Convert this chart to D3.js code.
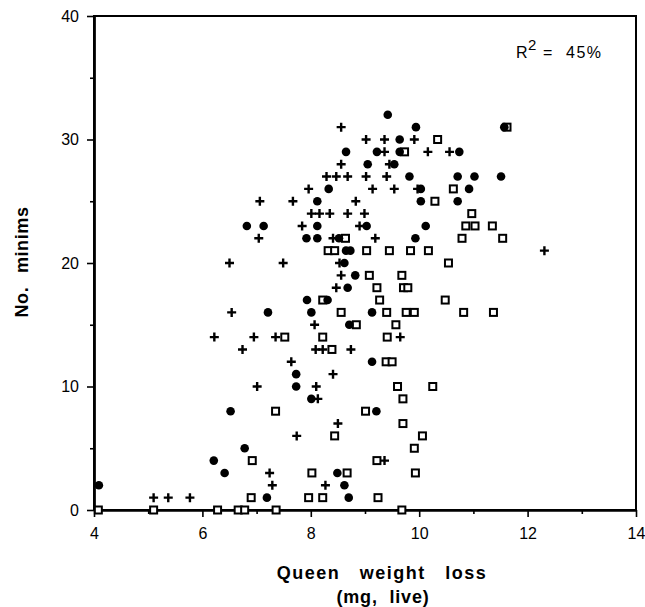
<!DOCTYPE html>
<html><head><meta charset="utf-8">
<script src="https://cdn.jsdelivr.net/npm/d3@7"></script>
<style>body{margin:0;background:#fff} svg{display:block}</style>
</head><body>
<svg id="c" width="645" height="607"></svg>
<script>
const xTicks = [4, 6, 8, 10, 12, 14];
const xMinorTicks = [5, 7, 9, 11, 13];
const yTicks = [0, 10, 20, 30, 40];
const yMinorTicks = [5, 15, 25, 35];
const xTitle = ["Queen weight loss", "(mg, live)"];
const yTitle = "No. minims";

// filled circles [weight loss, minims]
const circlePts = [
 [9.42,32],[9.94,31],[9.64,30],[8.65,29],[9.22,29],[9.64,29],[10.74,29],[9.05,28],[9.54,28],
 [9.82,27],[10.71,27],[11.02,27],[8.33,26],[10.03,26],[10.92,26],[8.12,25],[10.03,25],[10.71,25],
 [8.12,23],[9.03,23],[10.12,23],[7.92,22],[8.12,22],[8.52,22],[9.93,22],[6.82,23],[7.13,23],
 [11.57,31],[11.51,27],[7.21,16],[8.65,21],[8.73,21],[8.62,20],[8.82,19],[8.68,18],[7.93,17],
 [8.31,17],[8.01,16],[9.13,16],[8.71,15],[9.13,12],[7.73,11],[7.73,10],[8.01,9],[9.21,8],
 [8.49,3],[8.62,2],[8.70,1],[4.09,2],[6.52,8],[6.78,5],[6.21,4],[6.41,3],[7.19,1]
];
// plus signs
const plusPts = [
 [8.56,31],[9.02,30],[9.36,30],[9.91,30],[9.36,29],[10.16,29],[10.56,29],[8.56,28],[9.45,28],
 [8.29,27],[8.47,27],[8.68,27],[9.02,27],[9.40,27],[7.96,26],[9.14,26],[9.54,26],[9.97,26],
 [7.67,25],[8.83,25],[7.06,25],[8.01,24],[8.16,24],[8.35,24],[8.68,24],[8.99,24],[7.84,23],
 [8.90,23],[8.41,22],[9.19,22],[7.04,22],[12.31,21],[6.50,20],[7.49,20],[8.53,20],[8.56,19],
 [8.47,18],[6.54,16],[8.07,15],[6.22,14],[6.95,14],[7.35,14],[9.65,14],[6.74,13],[8.09,13],
 [8.22,13],[8.74,13],[7.64,12],[8.41,11],[8.10,10],[7.01,10],[8.13,9],[8.50,7],[7.74,6],
 [9.36,4],[7.24,3],[8.27,2],[7.29,2],[5.10,1],[5.37,1],[5.77,1]
];
// open squares
const squarePts = [
 [10.34,30],[9.73,29],[11.62,31],[10.63,26],[10.29,25],[10.97,24],[10.86,23],[11.03,23],[11.35,23],
 [8.64,22],[10.79,22],[11.54,22],[8.32,21],[8.44,21],[9.03,21],[9.45,21],[9.84,21],[10.17,21],
 [10.54,20],[9.08,19],[9.68,19],[9.22,18],[9.71,18],[9.79,18],[8.22,17],[9.27,17],[10.48,17],
 [8.56,16],[9.40,16],[9.76,16],[9.91,16],[10.82,16],[11.37,16],[8.84,15],[9.57,15],[7.52,14],
 [8.22,14],[9.41,14],[8.39,13],[9.39,12],[9.50,12],[9.60,10],[10.25,10],[9.70,9],[9.01,8],
 [7.35,8],[9.70,7],[8.44,6],[10.06,6],[9.91,5],[9.22,4],[6.92,4],[8.02,3],[8.67,3],[9.93,3],
 [7.96,1],[8.22,1],[9.24,1],[6.90,1],[9.68,0],[4.08,0],[5.10,0],[6.28,0],[6.66,0],[6.78,0],[7.36,0]
];
const annotation = "45%";

const svg = d3.select("#c");
const L = 94, R = 636, T = 16, B = 510;
const x = d3.scaleLinear().domain([4, 14]).range([L, R]);
const y = d3.scaleLinear().domain([0, 40]).range([B, T]);
const font = "'Liberation Sans', Arial, Helvetica, sans-serif";

// frame
svg.append("rect").attr("x", L).attr("y", T).attr("width", R - L).attr("height", B - T)
  .attr("fill", "none").attr("stroke", "#000").attr("stroke-width", 2);

// axes
const gx = svg.append("g").attr("transform", `translate(0,${B})`)
  .call(d3.axisBottom(x).tickValues(xTicks).tickSize(7).tickSizeOuter(0).tickPadding(11).tickFormat(d3.format("d")));
const gxm = svg.append("g").attr("transform", `translate(0,${B})`)
  .call(d3.axisBottom(x).tickValues(xMinorTicks).tickSize(4).tickSizeOuter(0).tickFormat(""));
const gy = svg.append("g").attr("transform", `translate(${L},0)`)
  .call(d3.axisLeft(y).tickValues(yTicks).tickSize(7).tickSizeOuter(0).tickPadding(8).tickFormat(d3.format("d")));
const gym = svg.append("g").attr("transform", `translate(${L},0)`)
  .call(d3.axisLeft(y).tickValues(yMinorTicks).tickSize(4).tickSizeOuter(0).tickFormat(""));
[gx, gxm, gy, gym].forEach(g => {
  g.attr("font-size", 16).attr("font-family", font);
  g.select(".domain").attr("stroke", "#000").attr("stroke-width", 2);
  g.selectAll(".tick line").attr("stroke", "#000").attr("stroke-width", 1.6);
  g.selectAll("text").style("font-size", "16px").style("font-family", font).attr("fill", "#000");
});
gy.select(".domain").attr("stroke-width", 2.5);

// markers
svg.append("g").selectAll("rect").data(squarePts).join("rect")
  .attr("x", d => x(d[0]) - 3.5).attr("y", d => y(d[1]) - 3.5)
  .attr("width", 7).attr("height", 7)
  .attr("fill", "#fff").attr("stroke", "#000").attr("stroke-width", 2);
svg.append("g").selectAll("circle").data(circlePts).join("circle")
  .attr("cx", d => x(d[0])).attr("cy", d => y(d[1])).attr("r", 4.3).attr("fill", "#000");
svg.append("g").selectAll("path").data(plusPts).join("path")
  .attr("transform", d => `translate(${x(d[0])},${y(d[1])})`)
  .attr("d", "M-4.5,0H4.5M0,-4.5V4.5")
  .attr("stroke", "#000").attr("stroke-width", 2.4).attr("fill", "none");

// titles
svg.append("text").attr("x", 382).attr("y", 579).attr("text-anchor", "middle")
  .attr("font-family", font).attr("font-weight", "bold").attr("font-size", 18)
  .attr("letter-spacing", 1.5).attr("word-spacing", 13).text(xTitle[0]);
svg.append("text").attr("x", 383).attr("y", 603).attr("text-anchor", "middle")
  .attr("font-family", font).attr("font-weight", "bold").attr("font-size", 18)
  .attr("letter-spacing", 0.8).attr("word-spacing", 6).text(xTitle[1]);
svg.append("text").attr("transform", "translate(28,262) rotate(-90)").attr("text-anchor", "middle")
  .attr("font-family", font).attr("font-weight", "bold").attr("font-size", 18)
  .attr("letter-spacing", 0.6).attr("word-spacing", 8).text(yTitle);

const ann = svg.append("g").attr("font-family", font).attr("fill", "#000");
ann.append("text").attr("x", 516).attr("y", 58).attr("font-size", 16).text("R");
ann.append("text").attr("x", 528).attr("y", 50).attr("font-size", 15).text("2");
ann.append("text").attr("x", 543).attr("y", 58).attr("font-size", 16).text("=");
ann.append("text").attr("x", 566).attr("y", 58).attr("font-size", 16).attr("letter-spacing", 1.5).text(annotation);
</script>
</body></html>
